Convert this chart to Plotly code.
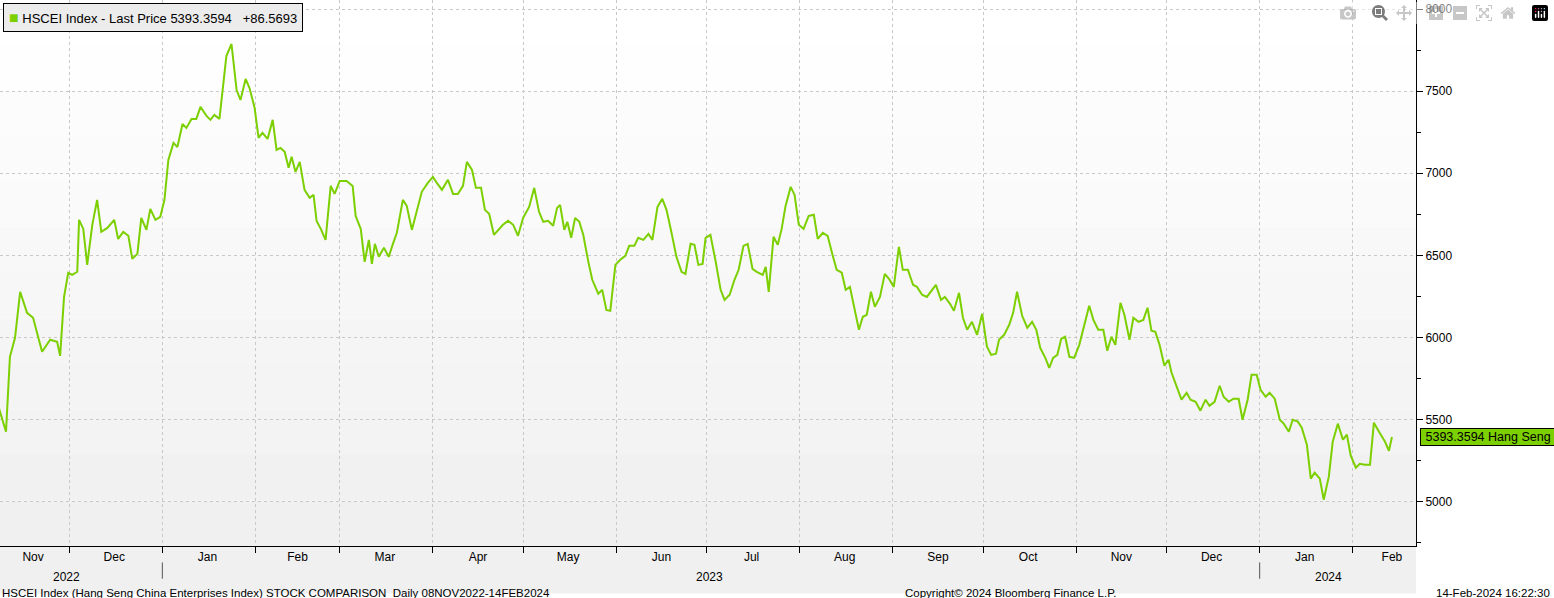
import plotly.graph_objects as go
import pandas as pd

start = pd.Timestamp("2022-11-07")

# days since start
day_offset = [0, 3, 4.3, 6, 7.7, 10, 12, 15, 17.7, 20, 21, 22.3, 23.7, 25, 26.7, 27.3, 28.7, 30, 31.7, 33.3,
              34.7, 36.7, 39, 40.3, 42, 43.7, 45, 46.7, 48, 49.7, 51, 52.7, 54.3, 55.7, 57, 58.7, 60, 61.7, 63, 64.7,
              66.3, 67.7, 69.7, 71, 72.3, 74, 76.3, 78, 79.7, 81, 82.7, 84, 85.7, 87, 88.3, 90, 91.7, 93, 94.3, 95.7,
              97, 98, 99.3, 100.7, 102.3, 104, 105.3, 106.3, 107.7, 109.3, 111, 112.3, 114, 116.3, 118.3, 119.3, 121,
              122.3, 123.7, 124.7, 125.7, 127, 128.7, 130.3, 131.7, 133, 135, 136.3, 138, 139.3, 141.3, 143.3, 145,
              146.3, 148, 150, 151.7, 153.3, 155, 156.3, 158, 159.3, 161, 162.3, 163.7, 165.3, 166.7, 168.3, 170,
              171.7, 173.3, 175, 177, 178.7, 180.3, 181.7, 183.3, 185, 186.3, 187.3, 188.7, 189.7, 191, 192.3, 193.7,
              195, 196.7, 198, 200, 201.3, 202.7, 204, 205.7, 207.3, 209, 210.3, 212, 213.3, 215, 216.7, 218, 219.7,
              221.3, 222.7, 224.3, 226, 227.7, 229, 230.7, 232, 233.3, 234.7, 235.7, 237.3, 239, 240.7, 242, 243.7,
              245.3, 246.7, 248.3, 249.7, 251.3, 252.7, 254.7, 255.7, 256.7, 258.3, 259.7, 261, 262.3, 264, 265.3,
              266.7, 268.3, 270, 271.7, 273, 274.7, 276.3, 278, 279.3, 281, 282.3, 283.7, 285.3, 286.7, 288, 289.3,
              290.7, 292, 293.7, 295.3, 296.7, 298.3, 300, 301.3, 303, 304.7, 306, 307.7, 309.3, 310.7, 312.3, 314,
              315.3, 317, 318.3, 320, 321.3, 322.7, 324.3, 326, 327.7, 328.7, 329.3, 330.7, 332.3, 333.3, 335, 336.7,
              338, 339.3, 341, 342.7, 344.3, 345.7, 347, 348.7, 350, 351.3, 352.7, 354, 355.3, 356.7, 358.3, 360, 362,
              363.3, 364.7, 366.3, 368, 369.3, 370.7, 372, 373.7, 375, 376.7, 378, 379.7, 381.3, 382.7, 384, 385.3,
              386.7, 388.3, 389.7, 390.7, 392.3, 394, 395.7, 397, 398.7, 400.3, 402, 403.3, 405, 406.7, 408, 409.7,
              411.3, 413, 414.3, 416, 417.3, 419, 420.3, 422, 423.3, 425, 426.7, 428, 429.7, 431, 432.7, 434, 435.7,
              437, 438.3, 440, 441.3, 443, 444.3, 446, 447.7, 449, 450.3, 452, 453.3, 455, 456.7, 458, 459.7, 461.7,
              463, 464]

price = [5608, 5426, 5882, 5998, 6278, 6150, 6120, 5913, 5986, 5974, 5888, 6247, 6394, 6381, 6400, 6716, 6661, 6442, 6686, 6838,
         6643, 6667, 6716, 6600, 6643, 6619, 6479, 6509, 6728, 6655, 6783, 6716, 6734, 6838, 7081, 7185, 7160, 7300, 7276, 7331,
         7331, 7404, 7349, 7325, 7355, 7331, 7714, 7787, 7507, 7446, 7574, 7519, 7398, 7215, 7246, 7209, 7325, 7142, 7154, 7130,
         7033, 7100, 7008, 7069, 6899, 6850, 6868, 6710, 6661, 6594, 6923, 6874, 6953, 6953, 6923, 6740, 6661,
         6460, 6594, 6448, 6570, 6491, 6546, 6491, 6570, 6637, 6838, 6801, 6655, 6740, 6887, 6941, 6978,
         6941, 6899, 6960, 6874, 6874, 6923, 7069, 7020, 6911, 6911, 6777, 6753, 6625, 6655, 6686, 6710,
         6686, 6619, 6728, 6795, 6911, 6765, 6704, 6710, 6680, 6789, 6807, 6655, 6704, 6607, 6728, 6704,
         6625, 6460, 6351, 6266, 6290, 6168, 6162, 6442, 6473, 6497, 6558, 6558, 6607, 6594, 6631, 6594, 6795,
         6844, 6777, 6643, 6491, 6400, 6387, 6570, 6564, 6442, 6448, 6607, 6625, 6467, 6290, 6229, 6260,
         6351, 6412, 6558, 6570, 6418, 6400, 6381, 6430, 6278, 6613, 6564, 6661, 6801, 6917, 6868,
         6686, 6661, 6740, 6747, 6600, 6637, 6619, 6497, 6412, 6394, 6290, 6308, 6168, 6047, 6126, 6138,
         6278, 6187, 6247, 6387, 6357, 6308, 6552, 6412, 6412, 6320, 6308, 6260, 6247, 6278, 6320, 6229,
         6247, 6205, 6162, 6272, 6120, 6047, 6095, 6016, 6144, 6016, 5943, 5894, 5901, 5986, 6016, 6077,
         6150, 6278, 6132, 6059, 6095, 6047, 5937, 5876, 5815, 5876, 5894, 5992, 6004, 5882, 5876, 5955, 6089,
         6193, 6107, 6047, 6047, 5919, 6004, 5955, 6211, 6138, 5986, 6120, 6095, 6107, 6181, 6041, 6034,
         5955, 5828, 5864, 5785, 5706, 5621, 5663, 5621, 5608, 5554, 5621, 5584, 5608, 5706, 5639, 5608,
         5627, 5627, 5499, 5621, 5773, 5773, 5681, 5639, 5663, 5627, 5499, 5475, 5426, 5499, 5487, 5450, 5347,
         5140, 5176, 5140, 5012, 5152, 5365, 5475, 5377, 5408, 5280, 5207, 5231, 5225, 5225, 5481, 5426, 5365, 5310,
         5393.3594]

month_starts = ["2022-12-01", "2023-01-01", "2023-02-01", "2023-03-01", "2023-04-01", "2023-05-01", "2023-06-01",
                "2023-07-01", "2023-08-01", "2023-09-01", "2023-10-01", "2023-11-01", "2023-12-01", "2024-01-01",
                "2024-02-01"]
month_mid = ["2022-11-19", "2022-12-16", "2023-01-16", "2023-02-15", "2023-03-16", "2023-04-16", "2023-05-16",
             "2023-06-16", "2023-07-16", "2023-08-16", "2023-09-16", "2023-10-16", "2023-11-16", "2023-12-16",
             "2024-01-16", "2024-02-14"]
month_labels = ["Nov", "Dec", "Jan", "Feb", "Mar", "Apr", "May", "Jun", "Jul", "Aug", "Sep", "Oct", "Nov", "Dec",
                "Jan", "Feb"]
year_labels = ["2022", "2023", "2024"]
year_pos = ["2022-11-30", "2023-07-02", "2024-01-24"]

dates = start + pd.to_timedelta(day_offset, unit="D")
green = "#7ccf00"
font = "Liberation Sans"

fig = go.Figure()
fig.add_trace(go.Scatter(x=dates, y=price, mode="lines", line=dict(color=green, width=2), showlegend=False))
# invisible trace on second x axis to carry month-start grid
fig.add_trace(go.Scatter(x=[dates[0], dates[-1]], y=[price[0], price[-1]], xaxis="x2", mode="lines",
                         line=dict(width=0), hoverinfo="skip", showlegend=False))

xr = ["2022-11-08", "2024-02-22"]
fig.update_layout(
    width=1554, height=598, paper_bgcolor="white", plot_bgcolor="white",
    margin=dict(l=0, r=138, t=0, b=52),
    font=dict(family=font, size=12, color="black"),
    xaxis=dict(range=xr, tickvals=month_mid, ticktext=month_labels, showgrid=False, ticks="",
               showline=True, linecolor="black", tickfont=dict(size=12), automargin=False),
    xaxis2=dict(range=xr, overlaying="x", tickvals=month_starts, showticklabels=False, showgrid=True,
                gridcolor="#c8c8c8", griddash="dot", ticks="outside", ticklen=6, tickcolor="black", side="bottom"),
    yaxis=dict(range=[4730, 8055], side="right", tickvals=[5000, 5500, 6000, 6500, 7000, 7500, 8000],
               gridcolor="#c8c8c8", griddash="dot", ticks="outside", ticklen=6, tickcolor="black",
               showline=True, linecolor="black", zeroline=False, automargin=False, tickfont=dict(size=12),
               minor=dict(tickvals=[4750, 5250, 5750, 6250, 6750, 7250, 7750], ticks="outside", ticklen=4,
                          tickcolor="black")),
)

# soft vertical gradient behind the plot, lighter at top
n_bands = 12
for i in range(n_bands):
    g = 255 - round(i * 15 / (n_bands - 1))
    fig.add_shape(type="rect", xref="paper", yref="paper", x0=0, x1=1, y0=1 - (i + 1) / n_bands, y1=1 - i / n_bands,
                  fillcolor="rgb(%d,%d,%d)" % (g, g, g), line=dict(width=0), layer="below")
# bottom strip
fig.add_shape(type="rect", xref="paper", yref="paper", x0=0, x1=1, y0=-0.087, y1=0,
              fillcolor="#f0f0f0", line=dict(width=0), layer="below")

for t, p in zip(year_labels, year_pos):
    fig.add_annotation(x=p, y=-0.04, yref="paper", text=t, showarrow=False, yanchor="top", font=dict(size=12))
for s in ["2023-01-01", "2024-01-01"]:
    fig.add_shape(type="line", x0=s, x1=s, y0=-0.03, y1=-0.06, yref="paper", line=dict(color="#555", width=1))

fig.add_annotation(x=0.0, xref="paper", y=-0.072, yref="paper", text="HSCEI Index (Hang Seng China Enterprises Index) STOCK COMPARISON  Daily 08NOV2022-14FEB2024",
                   showarrow=False, xanchor="left", yanchor="top", font=dict(size=11.5))
fig.add_annotation(x=0.714, xref="paper", y=-0.072, yref="paper", text="Copyright© 2024 Bloomberg Finance L.P.",
                   showarrow=False, xanchor="center", yanchor="top", font=dict(size=11.5))
fig.add_annotation(x=1.096, xref="paper", y=-0.072, yref="paper", text="14-Feb-2024 16:22:30",
                   showarrow=False, xanchor="right", yanchor="top", font=dict(size=11.5))

# legend box
fig.add_annotation(x=0.002, xref="paper", y=0.995, yref="paper", xanchor="left", yanchor="top", showarrow=False,
                   text="<span style='color:%s;font-size:16px'>■</span> HSCEI Index - Last Price 5393.3594   +86.5693" % green,
                   bgcolor="#ececec", bordercolor="black", borderwidth=1, borderpad=5, font=dict(size=13))

# last price tag
fig.add_annotation(x=1.003, xref="paper", y=price[-1], xanchor="left", yanchor="middle", showarrow=False,
                   text=" %.4f Hang Seng " % price[-1], bgcolor=green, bordercolor="black", borderwidth=1,
                   borderpad=1, font=dict(size=12.5))

fig.write_html("out.html", post_script="document.body.style.margin='0';")
